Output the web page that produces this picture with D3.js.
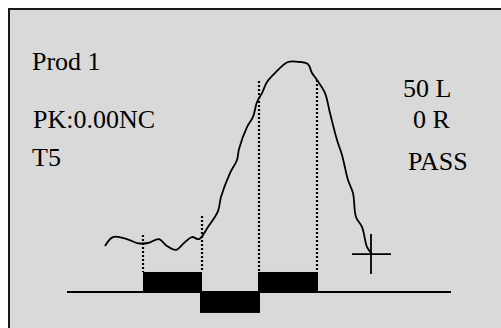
<!DOCTYPE html>
<html>
<head>
<meta charset="utf-8">
<script src="https://cdn.jsdelivr.net/npm/d3@7"></script>
<style>
  body { margin: 0; background: #fff; }
  svg text { font-family: "Liberation Serif", "DejaVu Serif", serif; font-size: 26px; fill: #000; }
</style>
</head>
<body>
<div id="visContainer"></div>
<script>
'use strict';

// signal trace: time (ms) and amplitude (%)
const traceTime = [19, 23, 30, 35, 40.5, 46, 50, 54.5, 58.5, 62.5, 66, 70.5, 75.5, 77, 81.5, 85,
  86, 90, 93, 95, 97.5, 100, 104, 110.5, 116.5, 120.5, 122.5, 125, 129, 131.5, 135, 137.5,
  140.5, 143, 144.5, 147.5, 150, 152];
const traceAmp = [20, 23.9, 23, 21.3, 21.3, 23, 20, 18.3, 21.3, 23.9, 23, 28.3, 35.2, 41.3, 51.7, 57.4,
  62.2, 71.7, 76.1, 82.6, 86.5, 91.3, 95.2, 100, 100, 99.1, 95.2, 92.2, 86.5, 77.8, 66.1, 59.6,
  48.7, 43, 32.6, 28.3, 19.6, 17];

// gate blocks along the baseline
const gateStart = [38, 66.5, 95.5];
const gateEnd = [67.5, 96.5, 125.5];
const gateLevel = [8.7, -9.1, 8.7];

// dotted markers: time and top amplitude
const markerTime = [38, 67.5, 96, 125];
const markerTop = [24.8, 33, 91.7, 92.2];

// cursor cross
const cursorTime = 152, cursorAmp = 16.5;

// labels
const leftLabels = ["Prod 1", "PK:0.00NC", "T5"];
const rightLabels = ["50 L", "0 R", "PASS"];

var svg = d3.select('#visContainer')
    .append('svg')
    .attr('width', 501)
    .attr('height', 328);

// frame
svg.append('rect')
    .attr('x', 9).attr('y', 9)
    .attr('width', 520).attr('height', 340)
    .attr('fill', '#d9d9d9')
    .attr('stroke', '#1a1a1a')
    .attr('stroke-width', 2);

var x = d3.scaleLinear().domain([0, 192]).range([67, 451]);
var y = d3.scaleLinear().domain([0, 100]).range([292, 62]);

// baseline
svg.append('line')
    .attr('x1', x(0)).attr('x2', x(192))
    .attr('y1', y(0)).attr('y2', y(0))
    .attr('stroke', '#000').attr('stroke-width', 2);

// gates
var gates = gateStart.map(function(s, i) { return {s: s, e: gateEnd[i], v: gateLevel[i]}; });
svg.selectAll('rect.gate')
    .data(gates)
  .enter().append('rect')
    .attr('class', 'gate')
    .attr('x', function(d) { return x(d.s); })
    .attr('width', function(d) { return x(d.e) - x(d.s); })
    .attr('y', function(d) { return Math.min(y(0), y(d.v)); })
    .attr('height', function(d) { return Math.abs(y(d.v) - y(0)); })
    .attr('fill', '#000');

// dotted markers
svg.selectAll('line.marker')
    .data(markerTime)
  .enter().append('line')
    .attr('class', 'marker')
    .attr('x1', function(d) { return x(d); })
    .attr('x2', function(d) { return x(d); })
    .attr('y1', function(d, i) { return y(markerTop[i]); })
    .attr('y2', y(gateLevel[0]))
    .attr('stroke', '#000')
    .attr('stroke-width', 2.2)
    .attr('stroke-dasharray', '2,2');

// trace
var pts = traceTime.map(function(t, i) { return [t, traceAmp[i]]; });
svg.append('path')
    .datum(pts)
    .attr('fill', 'none')
    .attr('stroke', '#000')
    .attr('stroke-width', 1.8)
    .attr('stroke-linejoin', 'round')
    .attr('d', d3.line()
        .x(function(d) { return x(d[0]); })
        .y(function(d) { return y(d[1]); })
        .curve(d3.curveCatmullRom));

// cursor cross
var cx = x(cursorTime), cy = y(cursorAmp);
svg.append('line')
    .attr('x1', cx - 19).attr('x2', cx + 20)
    .attr('y1', cy).attr('y2', cy)
    .attr('stroke', '#000').attr('stroke-width', 1.8);
svg.append('line')
    .attr('x1', cx).attr('x2', cx)
    .attr('y1', cy - 20).attr('y2', cy + 20)
    .attr('stroke', '#000').attr('stroke-width', 1.8);

// text labels
var leftPos = [[32, 70], [33, 128], [32, 166]];
svg.selectAll('text.left')
    .data(leftLabels)
  .enter().append('text')
    .attr('class', 'left')
    .attr('x', function(d, i) { return leftPos[i][0]; })
    .attr('y', function(d, i) { return leftPos[i][1]; })
    .text(function(d) { return d; });

var rightPos = [[403, 97], [413, 128], [408, 170]];
svg.selectAll('text.right')
    .data(rightLabels)
  .enter().append('text')
    .attr('class', 'right')
    .attr('x', function(d, i) { return rightPos[i][0]; })
    .attr('y', function(d, i) { return rightPos[i][1]; })
    .text(function(d) { return d; });
</script>
</body>
</html>
